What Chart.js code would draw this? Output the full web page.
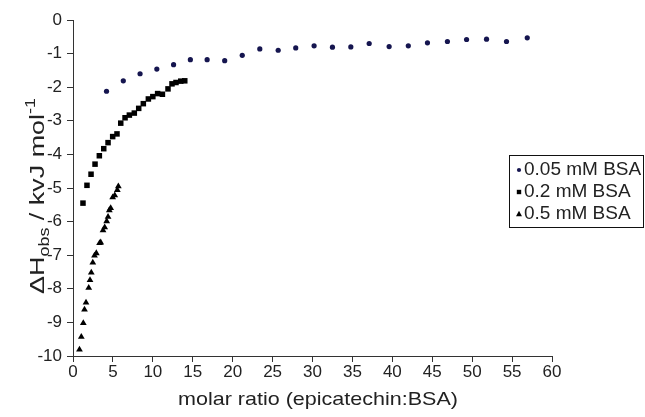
<!DOCTYPE html>
<html>
<head>
<meta charset="utf-8">
<script src="https://cdn.jsdelivr.net/npm/chart.js@4.4.0/dist/chart.umd.min.js"></script>
<style>
body{margin:0;background:#fff;}
#wrap{width:645px;height:417px;}
</style>
</head>
<body>
<div id="wrap"><canvas id="GraficaEntalpia" width="645" height="417"></canvas></div>
<script>
// 0.05 mM BSA
var ratio005 = [4.2, 6.3, 8.4, 10.5, 12.6, 14.7, 16.8, 19.0, 21.2, 23.4, 25.7, 27.9, 30.2, 32.5, 34.8, 37.1, 39.6, 42.0, 44.4, 46.9, 49.3, 51.8, 54.3, 56.9];
var dh005 = [-2.12, -1.81, -1.60, -1.46, -1.33, -1.18, -1.18, -1.21, -1.05, -0.86, -0.90, -0.83, -0.77, -0.81, -0.80, -0.70, -0.79, -0.77, -0.68, -0.64, -0.58, -0.57, -0.64, -0.53];
// 0.2 mM BSA
var ratio02 = [1.25, 1.75, 2.26, 2.76, 3.30, 3.85, 4.39, 4.97, 5.51, 5.98, 6.52, 7.06, 7.68, 8.23, 8.81, 9.44, 10.0, 10.6, 11.2, 11.9, 12.4, 12.9, 13.5, 14.0];
var dh02 = [-5.45, -4.92, -4.59, -4.29, -4.04, -3.83, -3.65, -3.47, -3.39, -3.07, -2.91, -2.83, -2.77, -2.63, -2.49, -2.35, -2.28, -2.19, -2.21, -2.05, -1.90, -1.86, -1.82, -1.81];
// 0.5 mM BSA
var ratio05 = [0.81, 1.04, 1.29, 1.44, 1.63, 1.97, 2.13, 2.29, 2.48, 2.69, 2.92, 3.33, 3.47, 3.76, 3.97, 4.22, 4.39, 4.55, 4.72, 4.97, 5.23, 5.55, 5.68];
var dh05 = [-9.81, -9.43, -9.02, -8.62, -8.41, -7.97, -7.74, -7.52, -7.22, -7.01, -6.94, -6.64, -6.62, -6.26, -6.17, -5.99, -5.86, -5.66, -5.60, -5.28, -5.22, -5.06, -4.95];

var etiquetas = ["0.05 mM BSA", "0.2 mM BSA", "0.5 mM BSA"];
var xTicks = [0, 5, 10, 15, 20, 25, 30, 35, 40, 45, 50, 55, 60];
var yTicks = [0, -1, -2, -3, -4, -5, -6, -7, -8, -9, -10];

var AZUL = '#15154f';
var NEGRO = '#000000';
var FUENTE = '"Liberation Sans", Arial, sans-serif';

function Puntos(xs, ys){
    var out = [];
    for(var i = 0; i < xs.length; i++){
        out.push({x: xs[i], y: ys[i]});
    }
    return out;
}

function Marca(ctx, estilo, x, y, r, color){
    ctx.fillStyle = color;
    ctx.beginPath();
    if(estilo == 'circle'){
        ctx.arc(x, y, r, 0, Math.PI*2);
    }else if(estilo == 'rect'){
        ctx.rect(x - r, y - r, r*2, r*2);
    }else{
        ctx.moveTo(x, y - r*1.2);
        ctx.lineTo(x + r*1.1, y + r*0.8);
        ctx.lineTo(x - r*1.1, y + r*0.8);
        ctx.closePath();
    }
    ctx.fill();
}

var textos = {
    id: 'textos',
    afterDraw: function(chart){
        var ctx = chart.ctx;
        ctx.save();
        ctx.fillStyle = '#222';
        ctx.textBaseline = 'alphabetic';
        ctx.textAlign = 'left';

        // titulo eje x
        ctx.font = '19px ' + FUENTE;
        var t = 'molar ratio (epicatechin:BSA)';
        var w = ctx.measureText(t).width;
        var sx = 280 / w;
        ctx.save();
        ctx.translate(318, 405);
        ctx.scale(sx, 1);
        ctx.fillText(t, -w/2, 0);
        ctx.restore();

        // titulo eje y
        var partes = [
            {txt: '\u0394H', size: 21, dy: 0},
            {txt: 'obs', size: 14, dy: 5},
            {txt: ' / kvJ mol', size: 21, dy: 0},
            {txt: '-1', size: 14, dy: -9}
        ];
        var total = 0;
        for(var i = 0; i < partes.length; i++){
            ctx.font = partes[i].size + 'px ' + FUENTE;
            partes[i].w = ctx.measureText(partes[i].txt).width;
            total += partes[i].w;
        }
        var sy = 196 / total;
        ctx.save();
        ctx.translate(44, 196);
        ctx.rotate(-Math.PI/2);
        ctx.scale(sy, 1);
        var px = -total/2;
        for(var j = 0; j < partes.length; j++){
            ctx.font = partes[j].size + 'px ' + FUENTE;
            ctx.fillText(partes[j].txt, px, partes[j].dy);
            px += partes[j].w;
        }
        ctx.restore();

        // leyenda
        ctx.strokeStyle = '#111';
        ctx.lineWidth = 1;
        ctx.fillStyle = '#fff';
        ctx.fillRect(509.5, 155.5, 134, 72);
        ctx.strokeRect(509.5, 155.5, 134, 72);
        var estilos = ['circle', 'rect', 'triangle'];
        var colores = [AZUL, NEGRO, NEGRO];
        var tam = [2.1, 2.2, 2.7];
        ctx.font = '19px ' + FUENTE;
        for(var k = 0; k < etiquetas.length; k++){
            var yy = 169 + k*22;
            Marca(ctx, estilos[k], 519, yy + 1, tam[k], colores[k]);
            ctx.fillStyle = '#222';
            ctx.textBaseline = 'middle';
            ctx.fillText(etiquetas[k], 524, yy + 1);
        }
        ctx.restore();
    }
};

var ctx = document.getElementById("GraficaEntalpia");
var grafica = new Chart(ctx, {
    type: 'scatter',
    data: {
        datasets: [
            {
                label: etiquetas[0],
                data: Puntos(ratio005, dh005),
                pointStyle: 'circle',
                pointRadius: 2.6,
                backgroundColor: AZUL,
                borderColor: AZUL,
                borderWidth: 0
            },
            {
                label: etiquetas[1],
                data: Puntos(ratio02, dh02),
                pointStyle: 'rect',
                pointRadius: 3.9,
                backgroundColor: NEGRO,
                borderColor: NEGRO,
                borderWidth: 0
            },
            {
                label: etiquetas[2],
                data: Puntos(ratio05, dh05),
                pointStyle: 'triangle',
                pointRadius: 3.9,
                backgroundColor: NEGRO,
                borderColor: NEGRO,
                borderWidth: 0
            }
        ]
    },
    options: {
        responsive: false,
        animation: false,
        devicePixelRatio: 1,
        layout: {padding: {left: 0, right: 93, top: 20, bottom: 0}},
        plugins: {
            legend: {display: false},
            tooltip: {enabled: false}
        },
        scales: {
            x: {
                type: 'linear',
                min: 0,
                max: 60,
                afterFit: function(scale){ scale.height = 61; },
                afterBuildTicks: function(scale){
                    scale.ticks = xTicks.map(function(v){ return {value: v}; });
                },
                grid: {drawOnChartArea: false, drawTicks: true, tickLength: 6, color: '#333'},
                border: {display: true, color: '#333', width: 1},
                ticks: {color: '#222', padding: 0, maxRotation: 0, font: {family: FUENTE, size: 17}}
            },
            y: {
                type: 'linear',
                min: -10,
                max: 0,
                afterFit: function(scale){ scale.width = 73; },
                afterBuildTicks: function(scale){
                    scale.ticks = yTicks.map(function(v){ return {value: v}; });
                },
                grid: {drawOnChartArea: false, drawTicks: true, tickLength: 6, color: '#333'},
                border: {display: true, color: '#333', width: 1},
                ticks: {color: '#222', padding: 5, font: {family: FUENTE, size: 17}}
            }
        }
    },
    plugins: [textos]
});
</script>
</body>
</html>
